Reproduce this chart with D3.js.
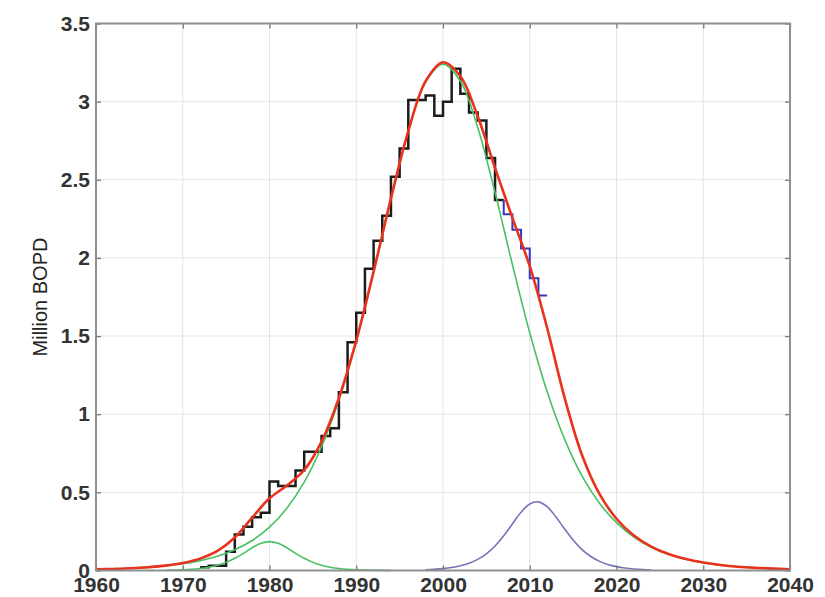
<!DOCTYPE html>
<html>
<head>
<meta charset="utf-8">
<script src="https://cdn.jsdelivr.net/npm/d3@7"></script>
<style>
  body { margin: 0; background: #fff; }
</style>
</head>
<body>
<script>
const canvWidth = 825, canvHeight = 597;
const plot = {left: 96, right: 790, top: 23.5, bottom: 570.5};

const xTicks = [1960, 1970, 1980, 1990, 2000, 2010, 2020, 2030, 2040];
const yTicks = [0, 0.5, 1, 1.5, 2, 2.5, 3, 3.5];

// yearly production, black steps
const prodYears = [1972, 1973, 1974, 1975, 1976, 1977, 1978, 1979, 1980, 1981,
    1982, 1983, 1984, 1985, 1986, 1987, 1988, 1989, 1990, 1991,
    1992, 1993, 1994, 1995, 1996, 1997, 1998, 1999, 2000, 2001,
    2002, 2003, 2004, 2005, 2006];
const prodValues = [0.02, 0.03, 0.03, 0.12, 0.23, 0.28, 0.34, 0.37, 0.57, 0.54,
    0.54, 0.64, 0.76, 0.76, 0.86, 0.91, 1.14, 1.46, 1.65, 1.93,
    2.11, 2.27, 2.52, 2.70, 3.01, 3.01, 3.04, 2.91, 3.00, 3.21,
    3.05, 2.93, 2.88, 2.64, 2.37];

// most recent years, blue steps
const newYears = [2007, 2008, 2009, 2010, 2011];
const newValues = [2.28, 2.18, 2.06, 1.87, 1.76];

// fitted curves
const fitYears = [1960, 1962, 1964, 1966, 1968, 1970, 1972, 1974, 1976, 1978,
    1980, 1982, 1984, 1986, 1988, 1990, 1992, 1994, 1996, 1998,
    2000, 2002, 2004, 2006, 2008, 2010, 2012, 2014, 2016, 2018,
    2020, 2022, 2024, 2026, 2028, 2030, 2032, 2034, 2036, 2038, 2040];
const totalFit = [0.007, 0.010, 0.014, 0.021, 0.031, 0.048, 0.076, 0.125, 0.211, 0.338,
    0.462, 0.544, 0.643, 0.825, 1.104, 1.471, 1.912, 2.381, 2.812, 3.131,
    3.252, 3.162, 2.906, 2.575, 2.256, 1.947, 1.553, 1.109, 0.742, 0.493,
    0.331, 0.224, 0.153, 0.105, 0.073, 0.051, 0.035, 0.024, 0.017, 0.012, 0.008];
const mainCycle = [0.007, 0.010, 0.014, 0.020, 0.030, 0.043, 0.063, 0.091, 0.133, 0.192,
    0.277, 0.398, 0.565, 0.792, 1.091, 1.466, 1.910, 2.380, 2.810, 3.126,
    3.240, 3.132, 2.835, 2.418, 1.958, 1.521, 1.145, 0.842, 0.607, 0.433,
    0.306, 0.214, 0.149, 0.104, 0.072, 0.050, 0.035, 0.024, 0.017, 0.012, 0.008];

const earlyYears = [1968, 1969, 1970, 1971, 1972, 1973, 1974, 1975, 1976, 1977,
    1978, 1979, 1980, 1981, 1982, 1983, 1984, 1985, 1986, 1987,
    1988, 1989, 1990, 1991, 1992, 1993, 1994];
const earlyCycle = [0.002, 0.003, 0.005, 0.008, 0.013, 0.021, 0.033, 0.052, 0.078, 0.110,
    0.146, 0.174, 0.185, 0.174, 0.146, 0.110, 0.078, 0.052, 0.033, 0.021,
    0.013, 0.008, 0.005, 0.003, 0.002, 0.001, 0.001];

const lateYears = [1998, 1999, 2000, 2001, 2002, 2003, 2004, 2005, 2006, 2007,
    2008, 2009, 2010, 2011, 2012, 2013, 2014, 2015, 2016, 2017,
    2018, 2019, 2020, 2021, 2022, 2023, 2024];
const lateCycle = [0.005, 0.008, 0.012, 0.019, 0.030, 0.046, 0.071, 0.107, 0.157, 0.222,
    0.298, 0.373, 0.426, 0.439, 0.408, 0.344, 0.267, 0.195, 0.135, 0.091,
    0.060, 0.039, 0.025, 0.016, 0.010, 0.006, 0.004];

const zip = (xs, ys) => xs.map((x, i) => [x, ys[i]]);

const svg = d3.select("body").append("svg")
    .attr("width", canvWidth)
    .attr("height", canvHeight);

const xScale = d3.scaleLinear().domain([1960, 2040]).range([plot.left, plot.right]);
const yScale = d3.scaleLinear().domain([0, 3.5]).range([plot.bottom, plot.top]);

// grid
const grid = svg.append("g").attr("id", "grid")
    .attr("stroke", "#dfe5eb")
    .attr("stroke-width", 1);
grid.selectAll(".gx").data(xTicks.slice(1, -1)).enter().append("line")
    .attr("x1", d => xScale(d)).attr("x2", d => xScale(d))
    .attr("y1", plot.top).attr("y2", plot.bottom);
grid.selectAll(".gy").data(yTicks.slice(1, -1)).enter().append("line")
    .attr("y1", d => yScale(d)).attr("y2", d => yScale(d))
    .attr("x1", plot.left).attr("x2", plot.right);

const lineSmooth = d3.line()
    .x(d => xScale(d[0]))
    .y(d => yScale(d[1]))
    .curve(d3.curveCatmullRom.alpha(0.5));

const lineStep = d3.line()
    .x(d => xScale(d[0]))
    .y(d => yScale(d[1]))
    .curve(d3.curveStepAfter);

// production steps
const prodPts = zip(prodYears, prodValues);
prodPts.push([2007, prodValues[prodValues.length - 1]]);
svg.append("path")
    .attr("d", lineStep(prodPts))
    .attr("fill", "none")
    .attr("stroke", "#1c1c1c")
    .attr("stroke-width", 2.5);

const newPts = [[2007, prodValues[prodValues.length - 1]]].concat(zip(newYears, newValues));
newPts.push([2012, newValues[newValues.length - 1]]);
svg.append("path")
    .attr("d", lineStep(newPts))
    .attr("fill", "none")
    .attr("stroke", "#3535c0")
    .attr("stroke-width", 2);

// components
svg.append("path")
    .attr("d", lineSmooth(zip(earlyYears, earlyCycle)))
    .attr("fill", "none")
    .attr("stroke", "#48c060")
    .attr("stroke-width", 1.6);

svg.append("path")
    .attr("d", lineSmooth(zip(fitYears, mainCycle)))
    .attr("fill", "none")
    .attr("stroke", "#48c060")
    .attr("stroke-width", 1.6);

svg.append("path")
    .attr("d", lineSmooth(zip(lateYears, lateCycle)))
    .attr("fill", "none")
    .attr("stroke", "#7474b6")
    .attr("stroke-width", 1.6);

// total fit
svg.append("path")
    .attr("d", lineSmooth(zip(fitYears, totalFit)))
    .attr("fill", "none")
    .attr("stroke", "#e8321c")
    .attr("stroke-width", 2.6);

// axes
const fontFam = "'Liberation Sans', Arial, sans-serif";

const xAxis = svg.append("g")
    .attr("transform", `translate(0,${plot.bottom})`)
    .call(d3.axisBottom(xScale).tickValues(xTicks).tickFormat(d => d)
        .tickSizeInner(-5).tickSizeOuter(0).tickPadding(7));
const yAxis = svg.append("g")
    .attr("transform", `translate(${plot.left},0)`)
    .call(d3.axisLeft(yScale).tickValues(yTicks).tickFormat(d => d)
        .tickSizeInner(-5).tickSizeOuter(0).tickPadding(6));
const xTop = svg.append("g")
    .attr("transform", `translate(0,${plot.top})`)
    .call(d3.axisTop(xScale).tickValues(xTicks).tickFormat("")
        .tickSizeInner(-5).tickSizeOuter(0));
const yRight = svg.append("g")
    .attr("transform", `translate(${plot.right},0)`)
    .call(d3.axisRight(yScale).tickValues(yTicks).tickFormat("")
        .tickSizeInner(-5).tickSizeOuter(0));

[xAxis, yAxis, xTop, yRight].forEach(g => {
    g.select(".domain").remove();
    g.selectAll(".tick line").attr("stroke", "#777").attr("stroke-width", 1.3);
    g.selectAll("text")
        .attr("font-family", fontFam)
        .attr("font-size", "21px")
        .attr("font-weight", "bold")
        .attr("fill", "#333");
});

svg.append("rect")
    .attr("x", plot.left).attr("y", plot.top)
    .attr("width", plot.right - plot.left)
    .attr("height", plot.bottom - plot.top)
    .attr("fill", "none")
    .attr("stroke", "#8f8f8f")
    .attr("stroke-width", 2);

svg.append("text")
    .attr("transform", `translate(47,${(plot.top + plot.bottom) / 2}) rotate(-90)`)
    .attr("font-family", fontFam)
    .attr("font-size", "20px")
    .attr("fill", "#222")
    .style("text-anchor", "middle")
    .text("Million BOPD");
</script>
</body>
</html>
